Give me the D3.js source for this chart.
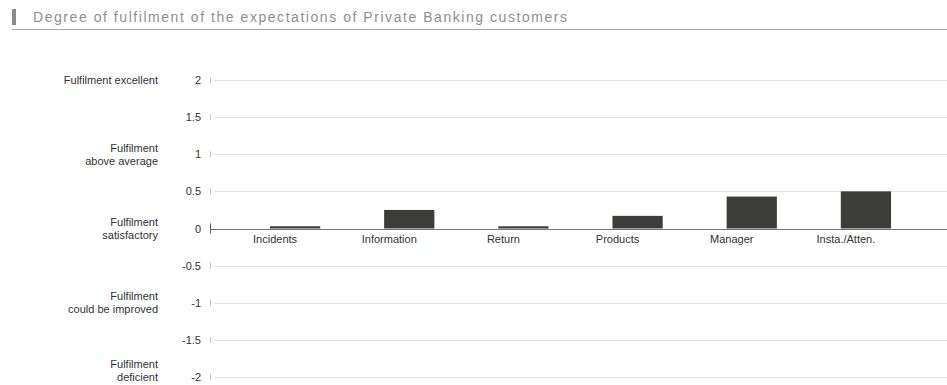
<!DOCTYPE html>
<html>
<head>
<meta charset="utf-8">
<script src="https://cdn.jsdelivr.net/npm/d3@7"></script>
<style>
  body { margin: 0; background: #fff; }
  svg { display: block; font-family: Arial, "Liberation Sans", sans-serif; }
</style>
</head>
<body>
<svg class="vis" width="947" height="385"></svg>
<script>
// data
const categories = ["Incidents", "Information", "Return", "Products", "Manager", "Insta./Atten."];
const values = [0.03, 0.25, 0.03, 0.17, 0.43, 0.5];
const y_ticks = [2, 1.5, 1, 0.5, 0, -0.5, -1, -1.5, -2];
const levels = [
    { v: 2,  lines: ["Fulfilment excellent"] },
    { v: 1,  lines: ["Fulfilment", "above average"] },
    { v: 0,  lines: ["Fulfilment", "satisfactory"] },
    { v: -1, lines: ["Fulfilment", "could be improved"] },
    { v: -2, lines: ["Fulfilment", "deficient"] }
];
const title = "Degree of fulfilment of the expectations of Private Banking customers";

const vis = {

    dims: { w: 947, h: 385, axis_x: 210, right: 947 },

    init: function() {
        const svg = d3.select("svg.vis");

        // title block
        svg.append("rect")
          .attr("x", 12).attr("y", 9).attr("width", 4).attr("height", 16)
          .attr("fill", "#8c8c8c");
        svg.append("text")
          .attr("x", 33).attr("y", 22)
          .attr("font-size", 14)
          .attr("textLength", 534)
          .attr("fill", "#8f8f8f")
          .text(title);
        svg.append("line")
          .attr("x1", 12).attr("x2", 947).attr("y1", 29.5).attr("y2", 29.5)
          .attr("stroke", "#a8a8a8");

        const y = d3.scaleLinear().domain([-2, 2]).range([377, 80]);
        const x = d3.scaleBand().domain(categories).range([238, 923]).paddingInner(0.56).paddingOuter(0.28);

        // gridlines
        svg.append("g")
          .selectAll("line")
          .data(y_ticks.filter(d => d !== 0))
          .join("line")
          .attr("x1", vis.dims.axis_x + 4).attr("x2", vis.dims.right)
          .attr("y1", d => Math.round(y(d)) + 0.5).attr("y2", d => Math.round(y(d)) + 0.5)
          .attr("stroke", "#e4e4e4");

        // y axis ticks
        const ticks = svg.append("g");
        ticks.selectAll("line")
          .data(y_ticks)
          .join("line")
          .attr("x1", vis.dims.axis_x + 0.5).attr("x2", vis.dims.axis_x + 0.5)
          .attr("y1", d => y(d) - (d === 0 ? 5 : 3))
          .attr("y2", d => y(d) + (d === 0 ? 5 : 3))
          .attr("stroke", d => d === 0 ? "#555" : "#c4c4c4");
        ticks.selectAll("text")
          .data(y_ticks)
          .join("text")
          .attr("x", 201).attr("y", d => y(d) + 4)
          .attr("text-anchor", "end")
          .attr("font-size", 11)
          .attr("fill", "#333")
          .text(d => d3.format("")(d).replace("−", "-"));

        // level descriptions (the bottom one sits a bit higher so it stays in view)
        const lv = svg.append("g")
          .selectAll("text")
          .data(levels)
          .join("text")
          .attr("text-anchor", "end")
          .attr("font-size", 11)
          .attr("fill", "#333");
        lv.each(function(d) {
            const n = d.lines.length;
            const shift = d.v === -2 ? -7 : 0;
            d3.select(this).selectAll("tspan")
              .data(d.lines)
              .join("tspan")
              .attr("x", 158)
              .attr("y", (t, i) => y(d.v) + 4 + shift + (i - (n - 1) / 2) * 13)
              .text(t => t);
        });

        // bars
        svg.append("g")
          .selectAll("rect")
          .data(categories.map((c, i) => ({ c: c, v: values[i] })))
          .join("rect")
          .attr("x", d => x(d.c))
          .attr("width", x.bandwidth())
          .attr("y", d => y(Math.max(0, d.v)))
          .attr("height", d => Math.abs(y(d.v) - y(0)))
          .attr("fill", "#3c3c3a");

        // zero line
        svg.append("line")
          .attr("x1", vis.dims.axis_x).attr("x2", vis.dims.right)
          .attr("y1", Math.round(y(0)) + 0.5).attr("y2", Math.round(y(0)) + 0.5)
          .attr("stroke", "#777");

        // category labels
        svg.append("g")
          .selectAll("text")
          .data(categories)
          .join("text")
          .attr("x", d => x(d) + x.bandwidth() / 2 - 20)
          .attr("y", y(0) + 14)
          .attr("text-anchor", "middle")
          .attr("font-size", 11)
          .attr("fill", "#333")
          .text(d => d);
    }
};

vis.init();
</script>
</body>
</html>
